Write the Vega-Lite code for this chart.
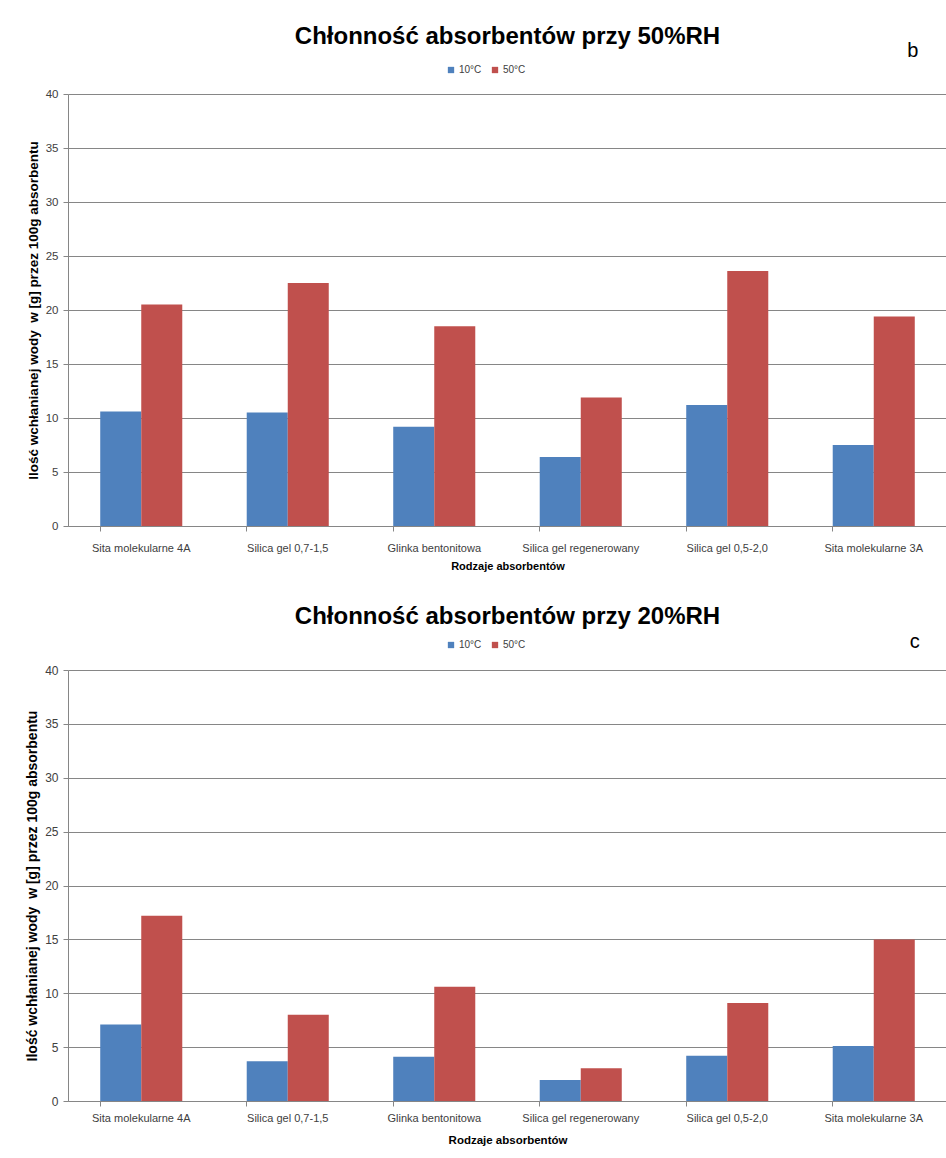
{
  "$schema": "https://vega.github.io/schema/vega-lite/v6.json",
  "padding": {"left": 25, "top": 24, "right": 0, "bottom": 0},
  "background": "white",
  "datasets": {
    "bars": [
      {"panel": "b", "material": "Sita molekularne 4A", "temp": "10°C", "value": 10.6},
      {"panel": "b", "material": "Sita molekularne 4A", "temp": "50°C", "value": 20.5},
      {"panel": "b", "material": "Silica gel 0,7-1,5", "temp": "10°C", "value": 10.5},
      {"panel": "b", "material": "Silica gel 0,7-1,5", "temp": "50°C", "value": 22.5},
      {"panel": "b", "material": "Glinka bentonitowa", "temp": "10°C", "value": 9.2},
      {"panel": "b", "material": "Glinka bentonitowa", "temp": "50°C", "value": 18.5},
      {"panel": "b", "material": "Silica gel regenerowany", "temp": "10°C", "value": 6.4},
      {"panel": "b", "material": "Silica gel regenerowany", "temp": "50°C", "value": 11.9},
      {"panel": "b", "material": "Silica gel 0,5-2,0", "temp": "10°C", "value": 11.2},
      {"panel": "b", "material": "Silica gel 0,5-2,0", "temp": "50°C", "value": 23.6},
      {"panel": "b", "material": "Sita molekularne 3A", "temp": "10°C", "value": 7.5},
      {"panel": "b", "material": "Sita molekularne 3A", "temp": "50°C", "value": 19.4},
      {"panel": "c", "material": "Sita molekularne 4A", "temp": "10°C", "value": 7.1},
      {"panel": "c", "material": "Sita molekularne 4A", "temp": "50°C", "value": 17.2},
      {"panel": "c", "material": "Silica gel 0,7-1,5", "temp": "10°C", "value": 3.7},
      {"panel": "c", "material": "Silica gel 0,7-1,5", "temp": "50°C", "value": 8.0},
      {"panel": "c", "material": "Glinka bentonitowa", "temp": "10°C", "value": 4.1},
      {"panel": "c", "material": "Glinka bentonitowa", "temp": "50°C", "value": 10.6},
      {"panel": "c", "material": "Silica gel regenerowany", "temp": "10°C", "value": 1.95},
      {"panel": "c", "material": "Silica gel regenerowany", "temp": "50°C", "value": 3.05},
      {"panel": "c", "material": "Silica gel 0,5-2,0", "temp": "10°C", "value": 4.2},
      {"panel": "c", "material": "Silica gel 0,5-2,0", "temp": "50°C", "value": 9.1},
      {"panel": "c", "material": "Sita molekularne 3A", "temp": "10°C", "value": 5.1},
      {"panel": "c", "material": "Sita molekularne 3A", "temp": "50°C", "value": 15.0}
    ]
  },
  "spacing": 33,
  "vconcat": [
    {
      "width": 879,
      "height": 432,
      "title": {"text": "Chłonność absorbentów przy 50%RH", "font": "Liberation Sans", "fontSize": 24, "fontWeight": "bold", "color": "#000000", "anchor": "middle", "offset": -8},
      "layer": [
        {
          "data": {"name": "bars"},
          "transform": [{"filter": "datum.panel == 'b'"}],
          "mark": {"type": "bar"},
          "encoding": {
            "x": {"field": "material", "type": "nominal", "sort": null,
              "scale": {"paddingInner": 0.44, "paddingOuter": 0.22},
              "axis": {"title": "Rodzaje absorbentów", "titleFont": "Liberation Sans", "titleFontSize": 11, "titleFontWeight": "bold", "titleColor": "#000000", "titlePadding": 7,
                "labelAngle": 0, "labelFont": "Liberation Sans", "labelFontSize": 11, "labelColor": "#404040", "labelPadding": 11,
                "bandPosition": 0, "tickSize": 5, "tickColor": "#868686", "domainColor": "#868686", "grid": false}},
            "xOffset": {"field": "temp", "type": "nominal", "sort": ["10°C", "50°C"]},
            "y": {"field": "value", "type": "quantitative",
              "scale": {"domain": [0, 40]},
              "axis": {"title": "Ilość wchłanianej wody\u00a0 w [g] przez 100g absorbentu", "titleFont": "Liberation Sans", "titleFontSize": 13.5, "titleFontWeight": "bold", "titleColor": "#000000", "titlePadding": 5,
                "values": [0, 5, 10, 15, 20, 25, 30, 35, 40], "labelFont": "Liberation Sans", "labelFontSize": 11.5, "labelColor": "#404040", "labelPadding": 5,
                "tickSize": 5, "tickColor": "#868686", "domainColor": "#868686", "gridColor": "#868686", "gridWidth": 1}},
            "color": {"field": "temp", "type": "nominal", "sort": ["10°C", "50°C"],
              "scale": {"domain": ["10°C", "50°C"], "range": ["#4F81BD", "#C0504D"]},
              "legend": {"title": null, "orient": "none", "direction": "horizontal", "legendX": 378, "legendY": -29, "symbolType": "square", "symbolSize": 40, "symbolStrokeWidth": 0, "labelFont": "Liberation Sans", "labelFontSize": 10, "labelColor": "#404040", "columnPadding": 8, "labelOffset": 3}}
          }
        },
        {
          "data": {"values": [{"label": "b"}]},
          "mark": {"type": "text", "font": "Liberation Sans", "fontSize": 20, "color": "#000000", "dx": 39, "baseline": "middle"},
          "encoding": {
            "x": {"datum": "Sita molekularne 3A"},
            "y": {"datum": 44},
            "text": {"field": "label"}
          }
        }
      ]
    },
    {
      "width": 879,
      "height": 431,
      "title": {"text": "Chłonność absorbentów przy 20%RH", "font": "Liberation Sans", "fontSize": 24, "fontWeight": "bold", "color": "#000000", "anchor": "middle", "offset": 3},
      "layer": [
        {
          "data": {"name": "bars"},
          "transform": [{"filter": "datum.panel == 'c'"}],
          "mark": {"type": "bar"},
          "encoding": {
            "x": {"field": "material", "type": "nominal", "sort": null,
              "scale": {"paddingInner": 0.44, "paddingOuter": 0.22},
              "axis": {"title": "Rodzaje absorbentów", "titleFont": "Liberation Sans", "titleFontSize": 11.5, "titleFontWeight": "bold", "titleColor": "#000000", "titlePadding": 11,
                "labelAngle": 0, "labelFont": "Liberation Sans", "labelFontSize": 11, "labelColor": "#404040", "labelPadding": 6,
                "bandPosition": 0, "tickSize": 5, "tickColor": "#868686", "domainColor": "#868686", "grid": false}},
            "xOffset": {"field": "temp", "type": "nominal", "sort": ["10°C", "50°C"]},
            "y": {"field": "value", "type": "quantitative",
              "scale": {"domain": [0, 40]},
              "axis": {"title": "Ilość wchłanianej wody\u00a0 w [g] przez 100g absorbentu", "titleFont": "Liberation Sans", "titleFontSize": 14, "titleFontWeight": "bold", "titleColor": "#000000", "titlePadding": 5,
                "values": [0, 5, 10, 15, 20, 25, 30, 35, 40], "labelFont": "Liberation Sans", "labelFontSize": 12, "labelColor": "#404040", "labelPadding": 5,
                "tickSize": 5, "tickColor": "#868686", "domainColor": "#868686", "gridColor": "#868686", "gridWidth": 1}},
            "color": {"field": "temp", "type": "nominal", "sort": ["10°C", "50°C"],
              "scale": {"domain": ["10°C", "50°C"], "range": ["#4F81BD", "#C0504D"]},
              "legend": {"title": null, "orient": "none", "direction": "horizontal", "legendX": 378, "legendY": -30, "symbolType": "square", "symbolSize": 40, "symbolStrokeWidth": 0, "labelFont": "Liberation Sans", "labelFontSize": 10, "labelColor": "#404040", "columnPadding": 8, "labelOffset": 3}}
          }
        },
        {
          "data": {"values": [{"label": "c"}]},
          "mark": {"type": "text", "font": "Liberation Sans", "fontSize": 20, "color": "#000000", "dx": 41, "baseline": "middle"},
          "encoding": {
            "x": {"datum": "Sita molekularne 3A"},
            "y": {"datum": 42.6},
            "text": {"field": "label"}
          }
        }
      ],
      "resolve": {"scale": {"color": "independent"}}
    }
  ],
  "resolve": {"scale": {"color": "independent"}},
  "config": {
    "view": {"stroke": null},
    "axis": {"domainWidth": 1, "tickWidth": 1}
  }
}
